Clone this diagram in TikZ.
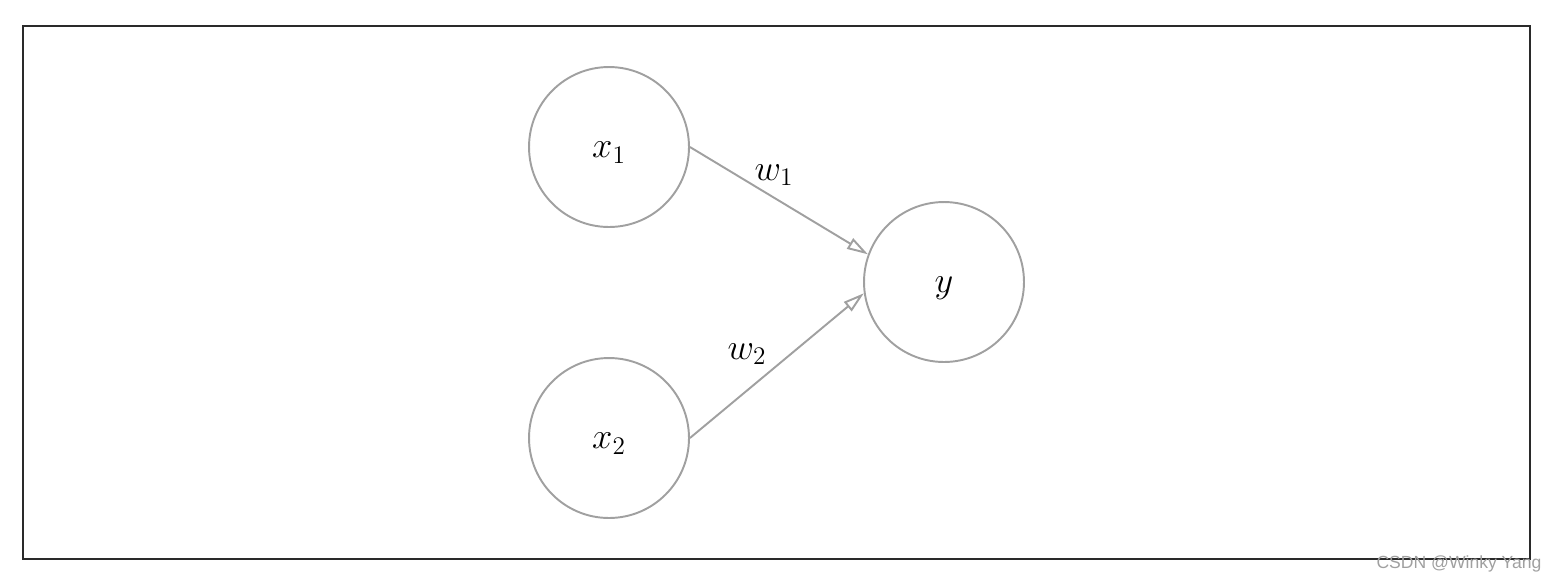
\documentclass[tikz,border=0pt]{standalone}
\usepackage{fontspec}
\newfontfamily\wmfont{Liberation Sans}
\usetikzlibrary{arrows.meta}
\definecolor{edgegrey}{HTML}{A0A0A0}
\definecolor{framegrey}{HTML}{2A2A2A}
\definecolor{wmgrey}{HTML}{A0A0A0}
\tikzset{
  neuron/.style={circle, draw=edgegrey, line width=1.1pt, minimum size=3.2cm, inner sep=0pt, text height=12pt, text depth=0pt, font=\fontsize{20}{24}\selectfont},
  conn/.style={draw=edgegrey, line width=1.1pt, -{Triangle[open, length=0.42cm, width=0.24cm]}},
  wlabel/.style={font=\fontsize{20}{24}\selectfont, inner sep=0pt},
  frame/.style={draw=framegrey, line width=1pt}
}
\begin{document}
\begin{tikzpicture}[x=0.02cm, y=-0.02cm]
\useasboundingbox (0,0) rectangle (1559,583);
\draw[frame] (23,26) rectangle (1530,559);
\node[neuron] (x1) at (609,147) {$x_1$};
\node[neuron] (x2) at (609,438) {$x_2$};
\node[neuron] (y) at (944,282) {$y$};
\draw[conn] (x1.east) -- (y.160);
\draw[conn] (x2.east) -- (y.188);
\node[wlabel] (w1) at (774,175) {$w_1$};
\node[wlabel] (w2) at (747,354) {$w_2$};
\node[font=\wmfont\fontsize{10}{12}\selectfont, text=wmgrey, inner sep=0pt] (wm) at (1459,564) {CSDN @Winky Yang};
\end{tikzpicture}
\end{document}
